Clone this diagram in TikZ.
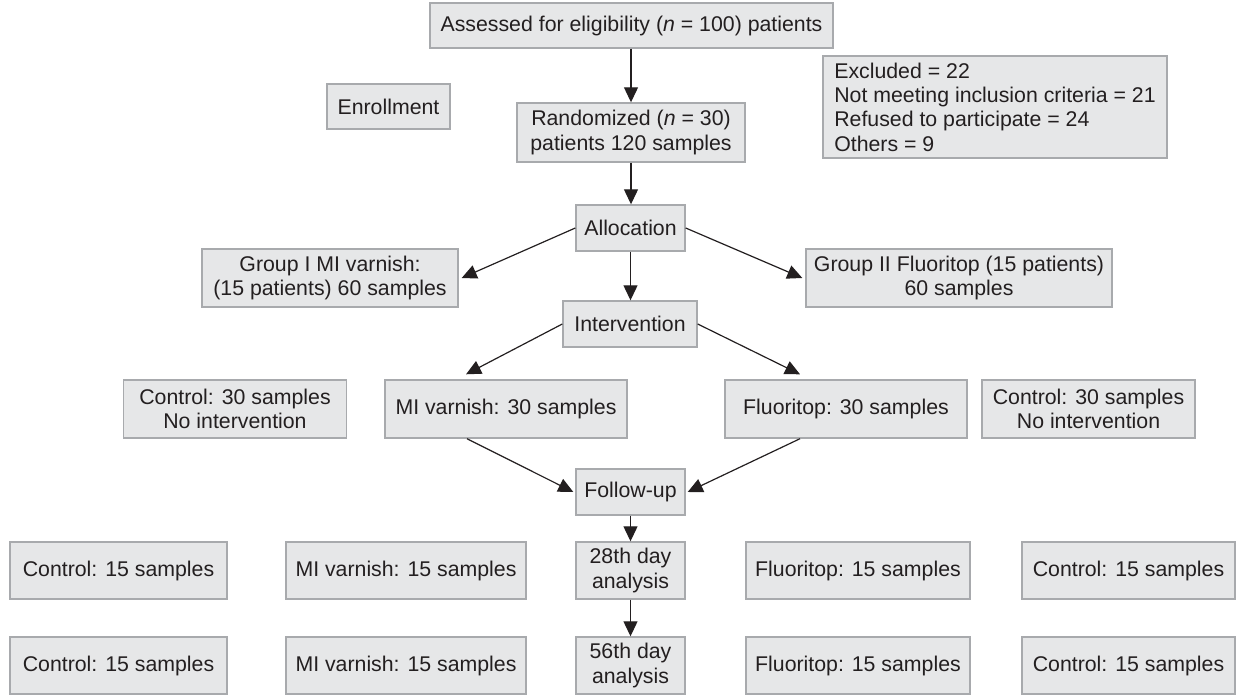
\documentclass[tikz,border=0pt]{standalone}
\usepackage{fontspec}
\setmainfont{Liberation Sans}
\usetikzlibrary{arrows.meta,calc}
\definecolor{boxfill}{HTML}{E6E7E8}
\definecolor{boxline}{HTML}{A8AAAD}
\definecolor{ink}{HTML}{231F20}
\tikzset{
  box/.style={draw=boxline, fill=boxfill, line width=1.4pt, inner sep=0pt,
    align=center, text=ink, font=\fontsize{21.3}{24.3}\selectfont},
  arr/.style={draw=ink, line width=1.2pt, -{Triangle[length=15pt,width=14pt]}}
}
\begin{document}
\begin{tikzpicture}[x=1pt,y=-1pt]
\useasboundingbox (0,0) rectangle (1236,696);
% top
\node[box, minimum width=403pt, minimum height=45pt] (assess) at (631.5,25.5) {Assessed for eligibility (\textit{n} = 100) patients};
\node[box, minimum width=123pt, minimum height=45pt] (enroll) at (388.5,106.5) {Enrollment};
\node[box, minimum width=228pt, minimum height=59pt] (rand) at (631,132.5) {Randomized (\textit{n} = 30)\\patients 120 samples};
\node[box, minimum width=344pt, minimum height=102pt, align=left] (excl) at (995,107) {Excluded = 22\\Not meeting inclusion criteria = 21\\Refused to participate = 24\\Others = 9};
% allocation
\node[box, minimum width=109pt, minimum height=46pt] (alloc) at (630.5,228) {Allocation};
\node[box, minimum width=256pt, minimum height=58pt] (g1) at (330,278) {Group I MI varnish:\\(15 patients) 60 samples};
\node[box, minimum width=306pt, minimum height=58pt] (g2) at (959,278) {Group II Fluoritop (15 patients)\\60 samples};
% intervention
\node[box, minimum width=134pt, minimum height=46pt] (interv) at (630,324) {Intervention};
\node[box, minimum width=223pt, minimum height=58pt] (c30l) at (235,409) {Control: 30 samples\\No intervention};
\node[box, minimum width=242pt, minimum height=58pt] (mi30) at (506,409) {MI varnish: 30 samples};
\node[box, minimum width=242pt, minimum height=58pt] (flu30) at (846,409) {Fluoritop: 30 samples};
\node[box, minimum width=213pt, minimum height=58pt] (c30r) at (1088.5,409) {Control: 30 samples\\No intervention};
% follow-up
\node[box, minimum width=109pt, minimum height=46pt] (fu) at (630.5,492) {Follow-up};
% row 28
\node[box, minimum width=217pt, minimum height=57pt] (c15a) at (118.5,570.5) {Control: 15 samples};
\node[box, minimum width=240pt, minimum height=57pt] (mi15a) at (406,570.5) {MI varnish: 15 samples};
\node[box, minimum width=109pt, minimum height=57pt] (d28) at (630.5,570.5) {28th day\\analysis};
\node[box, minimum width=224pt, minimum height=57pt] (flu15a) at (858,570.5) {Fluoritop: 15 samples};
\node[box, minimum width=213pt, minimum height=57pt] (c15b) at (1128.5,570.5) {Control: 15 samples};
% row 56
\node[box, minimum width=217pt, minimum height=57pt] (c15c) at (118.5,665.5) {Control: 15 samples};
\node[box, minimum width=240pt, minimum height=57pt] (mi15b) at (406,665.5) {MI varnish: 15 samples};
\node[box, minimum width=109pt, minimum height=57pt] (d56) at (630.5,665.5) {56th day\\analysis};
\node[box, minimum width=224pt, minimum height=57pt] (flu15b) at (858,665.5) {Fluoritop: 15 samples};
\node[box, minimum width=213pt, minimum height=57pt] (c15d) at (1128.5,665.5) {Control: 15 samples};
% connectors
\coordinate (miTop) at ([xshift=-40pt,yshift=5pt]mi30.north);
\coordinate (fluTop) at ([xshift=-46pt,yshift=5pt]flu30.north);
\coordinate (miBot) at ([xshift=-39pt]mi30.south);
\coordinate (fluBot) at ([xshift=-46pt]flu30.south);
\draw[arr] (assess.south -| rand.north) -- (rand.north);
\draw[arr] (rand.south) -- (rand.south |- alloc.north);
\draw[arr] (alloc.west) -- ([xshift=3pt]g1.east);
\draw[arr] (alloc.east) -- ([xshift=-3pt]g2.west);
\draw[arr] (alloc.south) -- (alloc.south |- interv.north);
\draw[arr] (interv.west) -- (miTop);
\draw[arr] (interv.east) -- (fluTop);
\draw[arr] (miBot) -- ([xshift=-2pt]fu.west);
\draw[arr] (fluBot) -- ([xshift=2pt]fu.east);
\draw[arr] (fu.south) -- (d28.north);
\draw[arr] (d28.south) -- (d56.north);
\end{tikzpicture}
\end{document}
